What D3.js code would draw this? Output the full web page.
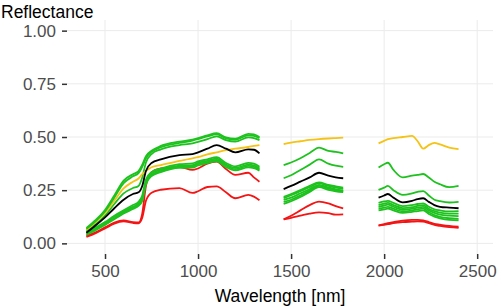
<!DOCTYPE html>
<html>
<head>
<meta charset="utf-8">
<script src="https://cdn.jsdelivr.net/npm/d3@7"></script>
<style>
body { margin: 0; background: #fff; }
text { font-family: "Liberation Sans", Arial, sans-serif; }
</style>
</head>
<body>
<svg id="chart" width="498" height="306"></svg>
<script>
// wavelengths (nm) of the three measured bands, water bands left out
var wl1 = [400, 450, 500, 550, 600, 650, 680, 700, 720, 750, 800, 900, 970, 1000, 1050, 1100, 1150, 1200, 1270, 1300, 1330];
var wl2 = [1460, 1500, 1550, 1600, 1650, 1700, 1740, 1780];
var wl3 = [1970, 2000, 2020, 2050, 2100, 2150, 2180, 2210, 2240, 2270, 2300, 2350, 2400];

// reflectance per spectrum, one array per band
var red1 = [
  [0.035, 0.052, 0.075, 0.098, 0.108, 0.1, 0.098, 0.14, 0.27, 0.335, 0.352, 0.36, 0.345, 0.352, 0.375, 0.384, 0.35, 0.322, 0.332, 0.31, 0.29],
  [0.113, 0.13, 0.155, 0.18, 0.196, 0.188, 0.175, 0.165],
  [0.085, 0.09, 0.095, 0.1, 0.107, 0.11, 0.11, 0.108, 0.1, 0.092, 0.088, 0.082, 0.078]];
var red2 = [
  [0.03, 0.048, 0.07, 0.093, 0.103, 0.096, 0.094, 0.12, 0.2, 0.238, 0.252, 0.26, 0.237, 0.245, 0.265, 0.268, 0.24, 0.212, 0.228, 0.22, 0.203],
  [0.113, 0.12, 0.13, 0.14, 0.146, 0.142, 0.135, 0.136],
  [0.083, 0.087, 0.09, 0.095, 0.1, 0.102, 0.103, 0.102, 0.095, 0.087, 0.082, 0.076, 0.073]];
var green1 = [
  [0.072, 0.11, 0.157, 0.225, 0.295, 0.325, 0.34, 0.37, 0.41, 0.435, 0.458, 0.478, 0.488, 0.495, 0.508, 0.518, 0.498, 0.492, 0.515, 0.512, 0.5],
  [0.368, 0.38, 0.4, 0.425, 0.45, 0.435, 0.43, 0.423],
  [0.357, 0.372, 0.379, 0.345, 0.31, 0.318, 0.322, 0.326, 0.31, 0.29, 0.278, 0.264, 0.27]];
var green2 = [
  [0.068, 0.105, 0.15, 0.215, 0.283, 0.315, 0.33, 0.36, 0.4, 0.43, 0.452, 0.472, 0.483, 0.49, 0.503, 0.512, 0.493, 0.487, 0.508, 0.505, 0.495],
  [0.306, 0.32, 0.345, 0.37, 0.395, 0.375, 0.365, 0.36],
  [0.251, 0.262, 0.27, 0.25, 0.228, 0.235, 0.242, 0.246, 0.225, 0.205, 0.198, 0.192, 0.195]];
var green3 = [
  [0.06, 0.09, 0.13, 0.185, 0.235, 0.26, 0.27, 0.31, 0.38, 0.42, 0.442, 0.462, 0.47, 0.477, 0.49, 0.503, 0.485, 0.478, 0.498, 0.495, 0.485],
  [0.219, 0.232, 0.25, 0.27, 0.287, 0.275, 0.268, 0.262],
  [0.19, 0.197, 0.2, 0.19, 0.175, 0.18, 0.185, 0.188, 0.172, 0.16, 0.155, 0.15, 0.152]];
var green4 = [
  [0.055, 0.075, 0.1, 0.13, 0.155, 0.18, 0.195, 0.225, 0.3, 0.335, 0.352, 0.372, 0.376, 0.385, 0.395, 0.405, 0.378, 0.362, 0.378, 0.375, 0.36],
  [0.213, 0.226, 0.245, 0.264, 0.282, 0.27, 0.262, 0.256],
  [0.18, 0.187, 0.19, 0.18, 0.166, 0.17, 0.176, 0.18, 0.163, 0.152, 0.145, 0.14, 0.14]];
var green5 = [
  [0.05, 0.07, 0.095, 0.125, 0.15, 0.172, 0.188, 0.215, 0.29, 0.328, 0.345, 0.365, 0.368, 0.378, 0.388, 0.398, 0.371, 0.355, 0.37, 0.367, 0.352],
  [0.204, 0.215, 0.235, 0.255, 0.275, 0.263, 0.254, 0.248],
  [0.172, 0.178, 0.182, 0.172, 0.158, 0.163, 0.168, 0.172, 0.155, 0.143, 0.135, 0.13, 0.128]];
var green6 = [
  [0.045, 0.066, 0.09, 0.118, 0.145, 0.168, 0.182, 0.208, 0.285, 0.322, 0.34, 0.36, 0.362, 0.372, 0.382, 0.392, 0.365, 0.349, 0.364, 0.36, 0.347],
  [0.195, 0.205, 0.225, 0.248, 0.27, 0.258, 0.25, 0.245],
  [0.163, 0.168, 0.172, 0.163, 0.15, 0.155, 0.16, 0.163, 0.146, 0.133, 0.125, 0.118, 0.115]];
var green7 = [
  [0.04, 0.062, 0.087, 0.113, 0.14, 0.162, 0.176, 0.2, 0.278, 0.316, 0.335, 0.355, 0.356, 0.366, 0.377, 0.386, 0.358, 0.343, 0.357, 0.354, 0.342],
  [0.186, 0.198, 0.218, 0.242, 0.264, 0.252, 0.245, 0.241],
  [0.155, 0.16, 0.163, 0.155, 0.143, 0.148, 0.152, 0.155, 0.138, 0.126, 0.118, 0.11, 0.108]];
var yellow1 = [
  [0.062, 0.1, 0.143, 0.2, 0.258, 0.29, 0.305, 0.325, 0.34, 0.358, 0.368, 0.388, 0.4, 0.405, 0.418, 0.428, 0.438, 0.445, 0.453, 0.458, 0.462],
  [0.467, 0.474, 0.48, 0.486, 0.49, 0.493, 0.495, 0.497],
  [0.47, 0.482, 0.49, 0.495, 0.5, 0.505, 0.48, 0.445, 0.462, 0.472, 0.465, 0.45, 0.443]];
var mean1 = [
  [0.05, 0.085, 0.122, 0.165, 0.205, 0.232, 0.24, 0.27, 0.34, 0.378, 0.395, 0.415, 0.42, 0.428, 0.445, 0.462, 0.445, 0.428, 0.442, 0.44, 0.423],
  [0.255, 0.27, 0.29, 0.31, 0.332, 0.318, 0.31, 0.306],
  [0.215, 0.225, 0.232, 0.215, 0.193, 0.2, 0.208, 0.212, 0.195, 0.18, 0.172, 0.168, 0.165]];

var yTicks = [0, 0.25, 0.5, 0.75, 1];
var xTicks = [500, 1000, 1500, 2000, 2500];

// drawing order: reds and greens below, yellow and black on top
var spectra = [
  {vals: red1, colour: "#f41414"}, {vals: red2, colour: "#f41414"},
  {vals: green7, colour: "#1ec21e"}, {vals: green6, colour: "#1ec21e"},
  {vals: green5, colour: "#1ec21e"}, {vals: green4, colour: "#1ec21e"},
  {vals: green3, colour: "#1ec21e"},
  {vals: yellow1, colour: "#f5c314"},
  {vals: green2, colour: "#1ec21e"}, {vals: green1, colour: "#1ec21e"},
  {vals: mean1, colour: "#000000"}
];
var bands = [wl1, wl2, wl3];

var margin = {top: 20, right: 5, bottom: 52, left: 67},
    width = 498, height = 306;

var x = d3.scaleLinear().domain([300, 2585]).range([margin.left + 0.8, width - margin.right]);
var y = d3.scaleLinear().domain([-0.05, 1.05]).range([height - margin.bottom, margin.top]);

var svg = d3.select("#chart");

// grid lines
var grid = svg.append("g");
grid.selectAll(".gx").data(xTicks).enter().append("line")
  .attr("x1", function(d) {return x(d);}).attr("x2", function(d) {return x(d);})
  .attr("y1", margin.top).attr("y2", height - margin.bottom)
  .attr("stroke", "#ebebeb").attr("stroke-width", 1);
grid.selectAll(".gy").data(yTicks).enter().append("line")
  .attr("x1", margin.left).attr("x2", width - margin.right)
  .attr("y1", function(d) {return y(d);}).attr("y2", function(d) {return y(d);})
  .attr("stroke", "#ebebeb").attr("stroke-width", 1);

// axes
var xAxis = d3.axisBottom(x).tickValues(xTicks).tickSize(5).tickPadding(6).tickFormat(d3.format("d"));
var yAxis = d3.axisLeft(y).tickValues(yTicks).tickSize(5).tickPadding(6).tickFormat(d3.format(".2f"));

var gx = svg.append("g")
  .attr("transform", "translate(0," + (height - margin.bottom) + ")")
  .call(xAxis);
var gy = svg.append("g")
  .attr("transform", "translate(" + margin.left + ",0)")
  .call(yAxis);

[gx, gy].forEach(function(g) {
  g.select(".domain").remove();
  g.selectAll(".tick line").attr("stroke", "#333").attr("stroke-width", 1.5);
  g.selectAll(".tick text").attr("fill", "#4d4d4d").style("font-size", "17px")
    .style("font-family", "'Liberation Sans', Arial, sans-serif");
});

// spectra
var line = d3.line()
  .x(function(d) {return x(d[0]);})
  .y(function(d) {return y(d[1]);})
  .curve(d3.curveMonotoneX);

var g = svg.append("g");
spectra.forEach(function(s) {
  bands.forEach(function(wl, b) {
    var pts = wl.map(function(w, i) {return [w, s.vals[b][i]];});
    g.append("path")
      .datum(pts)
      .attr("fill", "none")
      .attr("stroke", s.colour)
      .attr("stroke-width", 1.8)
      .attr("stroke-linejoin", "round")
      .attr("d", line);
  });
});

// titles
svg.append("text")
  .attr("x", 1).attr("y", 18)
  .style("font-size", "17.5px").attr("fill", "#000")
  .text("Reflectance");
svg.append("text")
  .attr("x", (margin.left + width - margin.right) / 2).attr("y", 302)
  .attr("text-anchor", "middle")
  .style("font-size", "17.5px").attr("fill", "#000")
  .text("Wavelength [nm]");
</script>
</body>
</html>
